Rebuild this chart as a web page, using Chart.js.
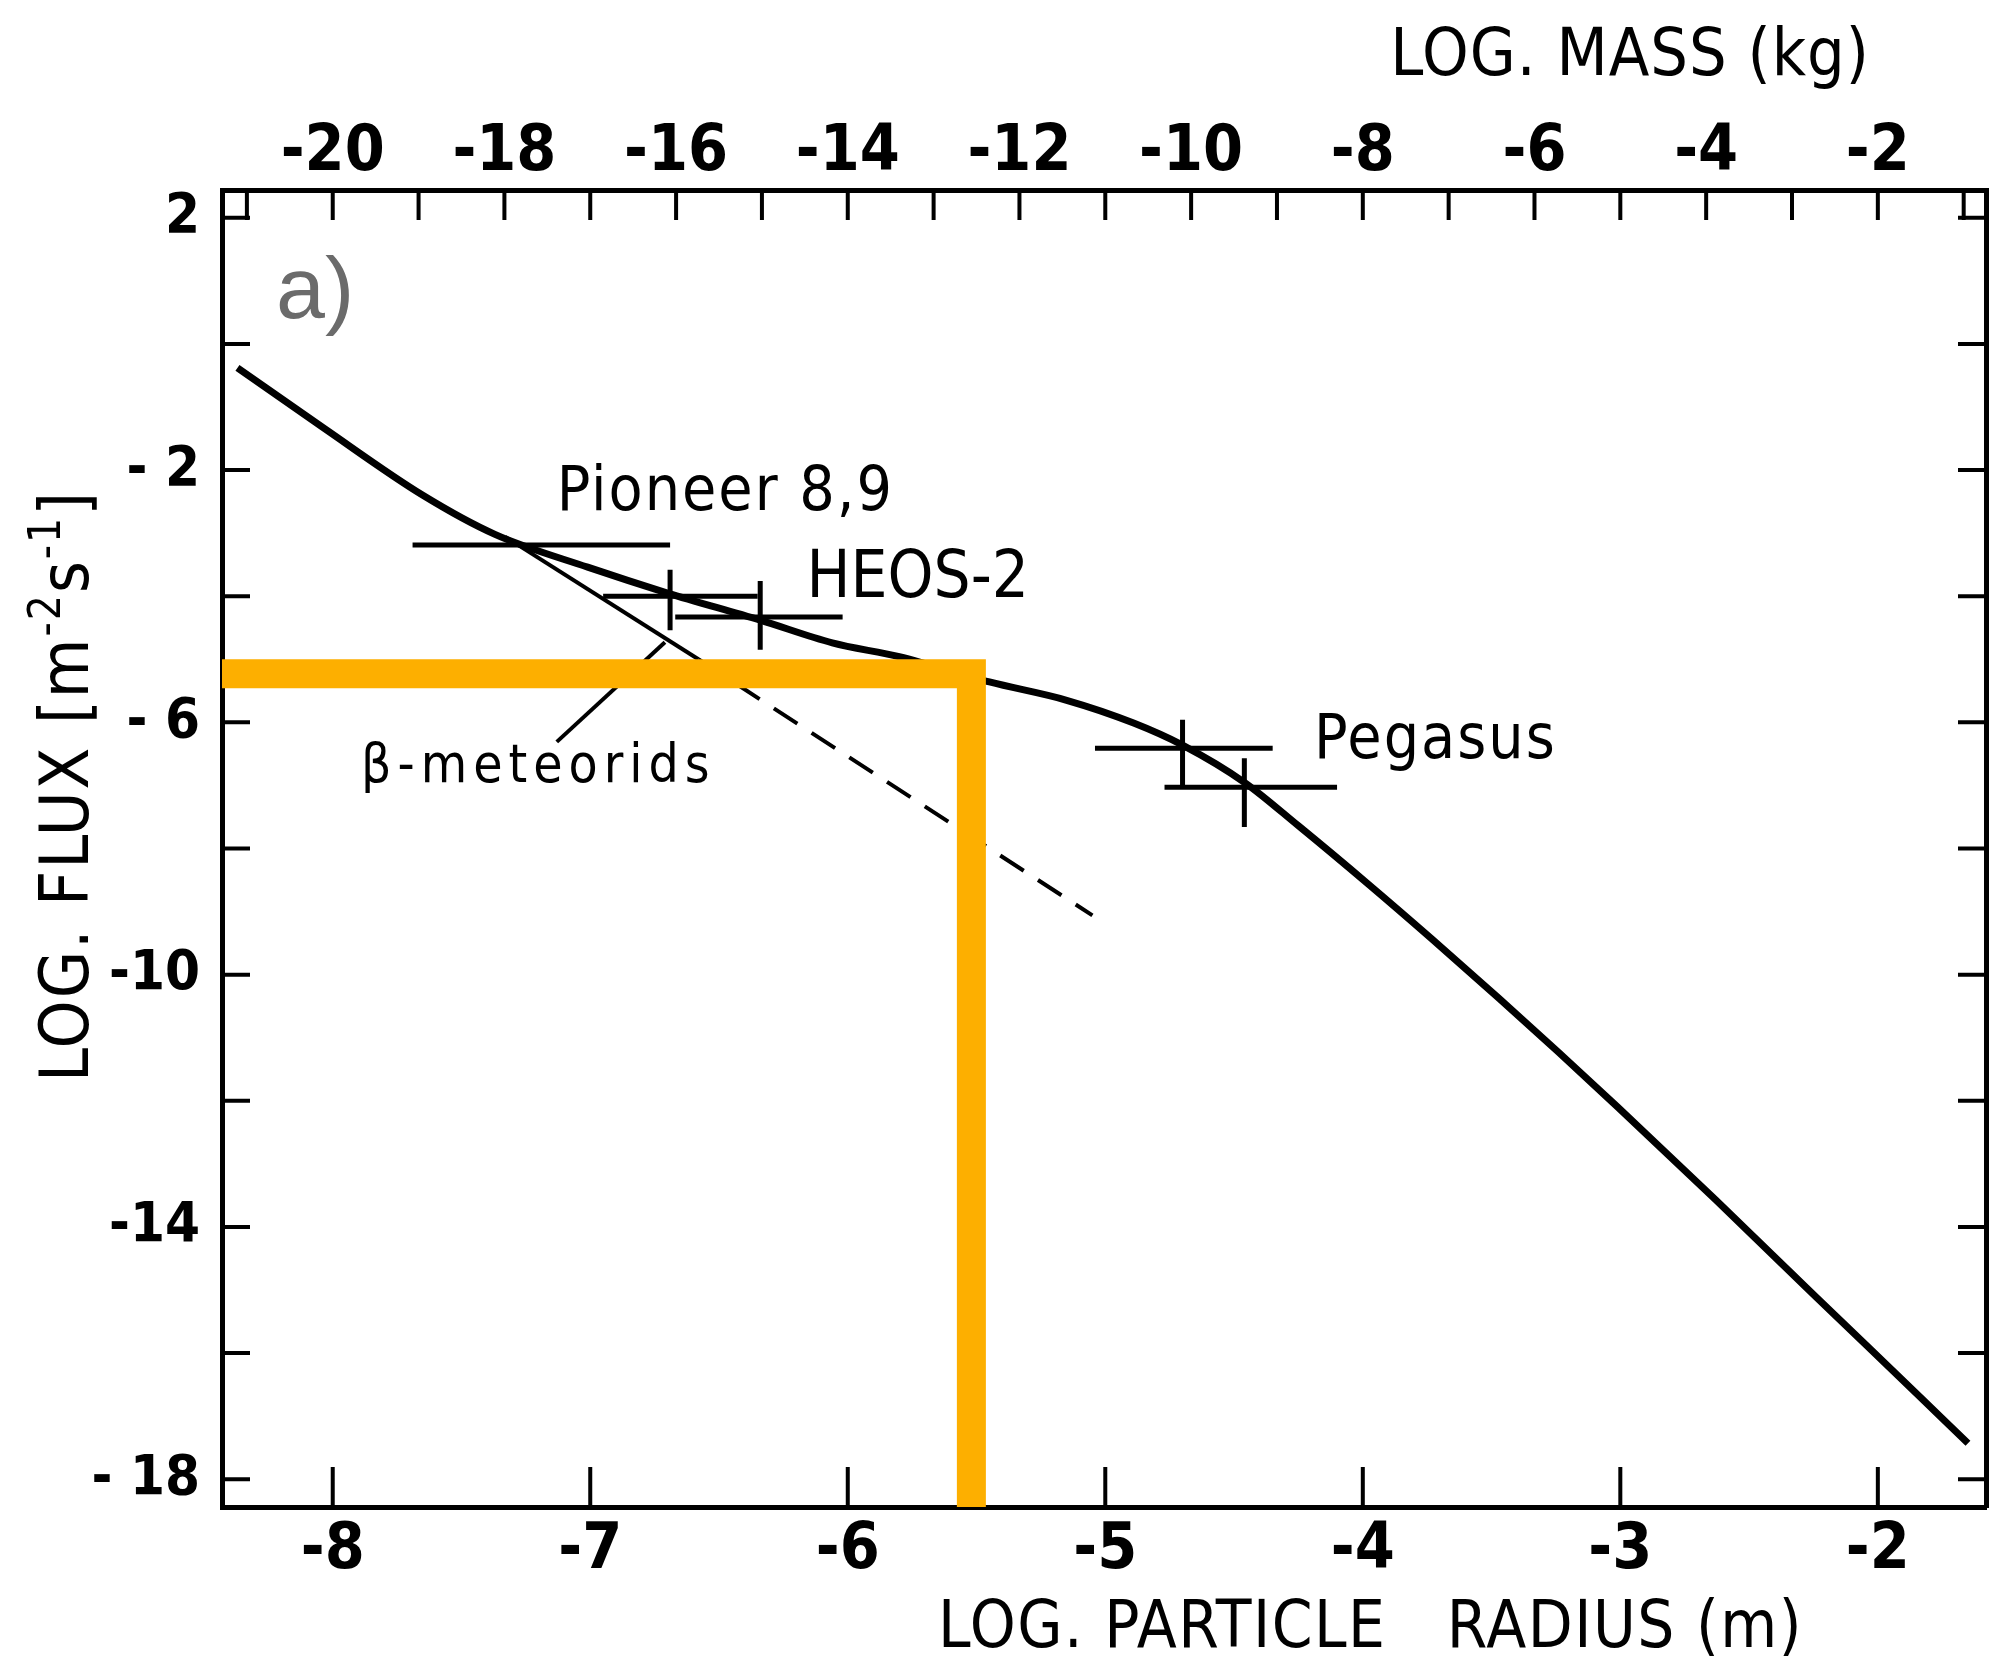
<!DOCTYPE html>
<html>
<head>
<meta charset="utf-8">
<script src="https://cdn.jsdelivr.net/npm/chart.js@4.4.0/dist/chart.umd.min.js"></script>
<style>
  html, body { margin: 0; padding: 0; background: #fff; }
  #wrap { width: 1994px; height: 1662px; }
</style>
</head>
<body>
<div id="wrap"><canvas id="chartFlux" width="1994" height="1662"></canvas></div>
<script>
// ── Values (log radius in m, log flux in m^-2 s^-1) ──

// interplanetary flux model, solid curve
const curveRadius = [-8.37, -8.04, -7.65, -7.37, -7.01, -6.70, -6.34, -6.06, -5.80, -5.45, -5.15, -4.89,
                     -4.70, -4.46, -4.25, -3.98, -3.73, -3.47, -3.24, -3.01, -2.63, -2.24, -1.85, -1.65];
const curveFlux   = [-0.38, -1.32, -2.40, -3.02, -3.54, -3.95, -4.38, -4.74, -4.96, -5.36, -5.65, -6.01,
                     -6.36, -6.95, -7.64, -8.56, -9.44, -10.38, -11.23, -12.10, -13.57, -15.11, -16.64, -17.43];

// β-meteorid branch: solid up to the middle point, dashed after it
const betaRadius = [-7.33, -6.58, -5.05];
const betaFlux   = [-3.06, -5.00, -9.06];

// measurement crosses, one [r1, f1, r2, f2] per bar
const pioneerBars = [
    [-7.69, -3.19, -6.69, -3.19],
    [-6.69, -3.58, -6.69, -4.54],
    [-6.95, -4.00, -6.35, -4.00],
];
const heosBars = [
    [-6.34, -3.76, -6.34, -4.85],
    [-6.67, -4.33, -6.02, -4.33],
];
const pegasusBars = [
    [-5.04, -6.41, -4.35, -6.41],
    [-4.70, -5.96, -4.70, -7.03],
    [-4.77, -7.03, -4.10, -7.03],
    [-4.46, -6.57, -4.46, -7.66],
];

// pointer from the "β-meteorids" label up to its line
const leaderRadius = [-7.13, -6.71];
const leaderFlux   = [-6.31, -4.73];

// orange highlight (radius / flux threshold)
const markRadius = -5.52;
const markFlux   = -5.23;

// axes
const radiusMin = -8.43, radiusMax = -1.58;
const fluxMin = -18.44, fluxMax = 2.44;
const massOffset = 4;                 // log m = 3 log r + 4
const massLabels = [-20, -18, -16, -14, -12, -10, -8, -6, -4, -2];
const fluxLabels = [2, -2, -6, -10, -14, -18];
const fluxLabelText = ['2', '- 2', '- 6', '-10', '-14', '- 18'];

// text notes inside the plot, anchored in data units
const notes = [
    { text: 'Pioneer 8,9', r: -7.13, f: -2.63, kind: 'label' },
    { text: 'HEOS-2',      r: -6.16, f: -4.01, kind: 'heos' },
    { text: 'Pegasus',     r: -4.19, f: -6.57, kind: 'label' },
    { text: 'β-meteorids', r: -7.89, f: -6.95, kind: 'small' },
    { text: 'a)',          r: -8.22, f: 0.41,  kind: 'panel' },
];

const FONT = '"DejaVu Sans Condensed", "DejaVu Sans", sans-serif';
const noteStyle = {
    label: { font: `62px ${FONT}`, spacing: '2px', color: '#000' },
    heos:  { font: `65px ${FONT}`, spacing: '0px', color: '#000' },
    small: { font: `53px ${FONT}`, spacing: '6px', color: '#000' },
    panel: { font: '88px "Liberation Sans", Arial, sans-serif', spacing: '0px', color: '#6b6b6b' },
};

const pts = (xs, ys) => xs.map((x, i) => ({ x, y: ys[i] }));

function bar(b, width) {
    return {
        data: [{ x: b[0], y: b[1] }, { x: b[2], y: b[3] }],
        borderColor: '#000',
        borderWidth: width || 5,
        borderCapStyle: 'butt',
        pointRadius: 0,
        order: 2,
    };
}

// ── inward tick marks on all four sides ──
const innerTicks = {
    id: 'innerTicks',
    beforeDatasetsDraw(chart) {
        const { ctx, chartArea: a, scales } = chart;
        ctx.save();
        ctx.strokeStyle = '#000';
        ctx.lineWidth = 4;
        ctx.beginPath();
        scales.x.ticks.forEach(t => {
            const p = scales.x.getPixelForValue(t.value);
            ctx.moveTo(p, a.bottom); ctx.lineTo(p, a.bottom - 40);
        });
        scales.x2.ticks.forEach(t => {
            const p = scales.x2.getPixelForValue(t.value);
            ctx.moveTo(p, a.top); ctx.lineTo(p, a.top + 30);
        });
        scales.y.ticks.forEach(t => {
            const p = scales.y.getPixelForValue(t.value);
            ctx.moveTo(a.left, p); ctx.lineTo(a.left + 28, p);
        });
        scales.y2.ticks.forEach(t => {
            const p = scales.y2.getPixelForValue(t.value);
            ctx.moveTo(a.right, p); ctx.lineTo(a.right - 28, p);
        });
        ctx.stroke();
        ctx.restore();
    },
};

// ── notes and axis titles ──
const textLayer = {
    id: 'textLayer',
    afterDatasetsDraw(chart) {
        const { ctx, scales: { x, y } } = chart;
        ctx.save();
        ctx.textBaseline = 'alphabetic';
        ctx.textAlign = 'left';
        notes.forEach(n => {
            const s = noteStyle[n.kind];
            ctx.font = s.font;
            ctx.fillStyle = s.color;
            ctx.letterSpacing = s.spacing;
            ctx.fillText(n.text, x.getPixelForValue(n.r), y.getPixelForValue(n.f));
        });

        ctx.fillStyle = '#000';
        ctx.letterSpacing = '1px';
        ctx.font = `66px ${FONT}`;
        ctx.textAlign = 'right';
        ctx.fillText('LOG. MASS (kg)', 1870, 75);

        ctx.textAlign = 'left';
        ctx.font = `65px ${FONT}`;
        ctx.letterSpacing = '1.5px';
        ctx.fillText('LOG. PARTICLE   RADIUS (m)', 938, 1647);

        // rotated y title with superscripts
        const parts = [
            { t: 'LOG. FLUX [m', sup: false },
            { t: '-2', sup: true },
            { t: 's', sup: false },
            { t: '-1', sup: true },
            { t: ']', sup: false },
        ];
        const big = `68px ${FONT}`, tiny = `44px ${FONT}`;
        ctx.letterSpacing = '2px';
        let total = 0;
        parts.forEach(p => { ctx.font = p.sup ? tiny : big; p.w = ctx.measureText(p.t).width; total += p.w; });
        ctx.translate(88, 786);
        ctx.rotate(-Math.PI / 2);
        let cx = -total / 2;
        parts.forEach(p => {
            ctx.font = p.sup ? tiny : big;
            ctx.fillText(p.t, cx, p.sup ? -28 : 0);
            cx += p.w;
        });
        ctx.restore();
    },
};

const tickFont = { family: FONT, size: 64, weight: 'bold' };
const axisBorder = { display: true, color: '#000', width: 5 };
const noGrid = { display: true, drawOnChartArea: false, drawTicks: false };

new Chart(document.getElementById('chartFlux'), {
    type: 'line',
    data: {
        datasets: [
            {
                // orange highlight sits on top of everything
                data: [{ x: radiusMin, y: markFlux }, { x: markRadius, y: markFlux }, { x: markRadius, y: fluxMin }],
                borderColor: '#FDAF00',
                borderWidth: 29,
                borderJoinStyle: 'miter',
                borderCapStyle: 'butt',
                pointRadius: 0,
                clip: 0,
                order: 0,
            },
            {
                data: pts(curveRadius, curveFlux),
                borderColor: '#000',
                borderWidth: 7,
                cubicInterpolationMode: 'monotone',
                pointRadius: 0,
                order: 1,
            },
            {
                data: pts(betaRadius.slice(0, 2), betaFlux.slice(0, 2)),
                borderColor: '#000',
                borderWidth: 4,
                pointRadius: 0,
                order: 1,
            },
            {
                data: pts(betaRadius.slice(1), betaFlux.slice(1)),
                borderColor: '#000',
                borderWidth: 4,
                borderDash: [28, 17],
                pointRadius: 0,
                order: 1,
            },
            {
                data: pts(leaderRadius, leaderFlux),
                borderColor: '#000',
                borderWidth: 4,
                pointRadius: 0,
                order: 1,
            },
            ...pioneerBars.map(b => bar(b)),
            ...heosBars.map(b => bar(b)),
            ...pegasusBars.map(b => bar(b)),
        ],
    },
    options: {
        responsive: false,
        animation: false,
        devicePixelRatio: 1,
        layout: { padding: 0 },
        plugins: { legend: { display: false }, tooltip: { enabled: false } },
        scales: {
            x: {
                type: 'linear',
                position: 'bottom',
                min: radiusMin,
                max: radiusMax,
                grid: noGrid,
                border: axisBorder,
                ticks: {
                    stepSize: 1, includeBounds: false, autoSkip: false, maxRotation: 0,
                    padding: 6, color: '#000', font: tickFont,
                    callback: v => String(v),
                },
                afterFit: s => { s.height = 155; },
            },
            x2: {
                type: 'linear',
                position: 'top',
                min: 3 * radiusMin + massOffset,
                max: 3 * radiusMax + massOffset,
                grid: noGrid,
                border: axisBorder,
                ticks: {
                    stepSize: 1, includeBounds: false, autoSkip: false, maxRotation: 0,
                    padding: -2, color: '#000', font: tickFont,
                    callback: v => massLabels.includes(v) ? String(v) : '',
                },
                afterFit: s => { s.height = 190; },
            },
            y: {
                type: 'linear',
                position: 'left',
                min: fluxMin,
                max: fluxMax,
                grid: noGrid,
                border: axisBorder,
                ticks: {
                    stepSize: 2, includeBounds: false, autoSkip: false,
                    padding: 22, color: '#000', font: { family: FONT, size: 56, weight: 'bold' },
                    callback: v => { const i = fluxLabels.indexOf(v); return i >= 0 ? fluxLabelText[i] : ''; },
                },
                afterFit: s => { s.width = 222; },
            },
            y2: {
                type: 'linear',
                position: 'right',
                min: fluxMin,
                max: fluxMax,
                grid: noGrid,
                border: axisBorder,
                ticks: { stepSize: 2, includeBounds: false, autoSkip: false, display: false },
                afterFit: s => { s.width = 8; },
            },
        },
    },
    plugins: [innerTicks, textLayer],
});
</script>
</body>
</html>
